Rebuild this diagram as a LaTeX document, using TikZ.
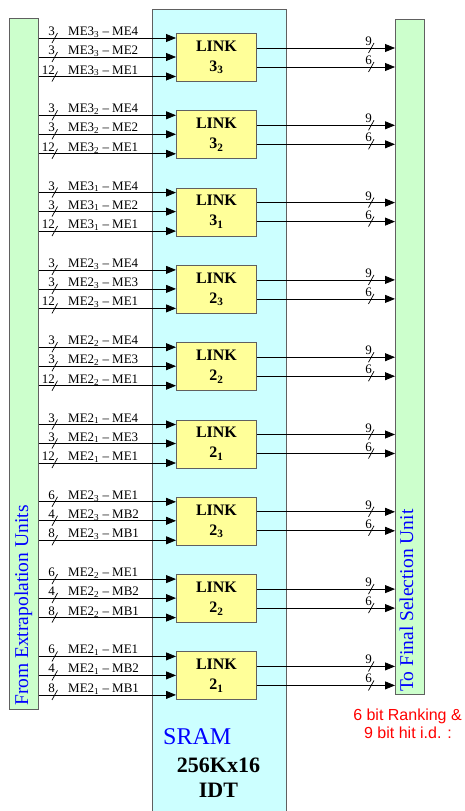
\documentclass[tikz,border=0pt]{standalone}
\usepackage{fontspec}
\setmainfont{Liberation Serif}
\newfontfamily\redsans{Liberation Sans}
\usetikzlibrary{arrows.meta}
\definecolor{barg}{HTML}{CCFFCC}
\definecolor{sramc}{HTML}{CCFFFF}
\definecolor{linky}{HTML}{FFFF99}
\definecolor{edgec}{HTML}{606060}
\begin{document}
\begin{tikzpicture}[x=1pt,y=-1pt,
  bar/.style={draw=edgec, fill=barg, line width=0.9pt, inner sep=0, anchor=north west},
  linkbox/.style={draw=edgec, fill=linky, line width=0.9pt, minimum width=80pt, minimum height=48pt, inner sep=0, anchor=north west, font=\fontsize{16}{20}\selectfont\bfseries, align=center},
  sig/.style={-{Triangle[length=10pt,width=8pt]}, line width=0.8pt},
  tick/.style={line width=0.7pt},
  lbl/.style={font=\fontsize{13}{15}\selectfont, anchor=base west, inner sep=0},
  num/.style={font=\fontsize{13}{15}\selectfont, anchor=base east, inner sep=0},
  bartext/.style={font=\fontsize{19.5}{22}\selectfont, text=blue, rotate=90, anchor=base west, inner sep=0}
]
\useasboundingbox (0,0) rectangle (465,811);
% SRAM box (open at bottom)
\fill[sramc] (152,9) rectangle (286,811);
\draw[edgec, line width=0.9pt] (152,811) -- (152,9) -- (286,9) -- (286,811);
\node[bar, minimum width=29pt, minimum height=691pt] (inbar) at (9,18) {};
\node[bar, minimum width=29pt, minimum height=675pt] (outbar) at (395,19) {};
\node[bartext] (intext) at (28,706) {From Extrapolation Units};
\node[bartext] (outtext) at (413,692) {To Final Selection Unit};
\foreach \g/\a/\s/\la/\lb/\lc/\na/\nb/\nc in {
  0/3/3/ME4/ME2/ME1/3/3/12, 1/3/2/ME4/ME2/ME1/3/3/12, 2/3/1/ME4/ME2/ME1/3/3/12,
  3/2/3/ME4/ME3/ME1/3/3/12, 4/2/2/ME4/ME3/ME1/3/3/12, 5/2/1/ME4/ME3/ME1/3/3/12,
  6/2/3/ME1/MB2/MB1/6/4/8, 7/2/2/ME1/MB2/MB1/6/4/8, 8/2/1/ME1/MB2/MB1/6/4/8}{
  \pgfmathsetmacro{\T}{33+77.3*\g}
  \node[linkbox] (link\g) at (176,\T) {LINK\\\a\textsubscript{\s}};
  \foreach \k/\dy/\lab/\n in {a/5/\la/\na, b/24/\lb/\nb, c/43.5/\lc/\nc}{
    \pgfmathsetmacro{\Y}{\T+\dy}
    \coordinate (src\g\k) at (inbar.east |- 0,\Y);
    \draw[sig] (src\g\k) -- (link\g.west |- src\g\k);
    \draw[tick] (52,\Y+5) -- (57.5,\Y-5);
    \node[num] (n\g\k) at (55,\Y-2.5) {\n};
    \node[lbl] (l\g\k) at (68,\Y-2.5) {ME\a\textsubscript{\s} – \lab};
  }
  \foreach \k/\dy/\n in {a/15/9, b/34/6}{
    \pgfmathsetmacro{\Y}{\T+\dy}
    \coordinate (dst\g\k) at (link\g.east |- 0,\Y);
    \draw[sig] (dst\g\k) -- (outbar.west |- dst\g\k);
    \draw[tick] (368.5,\Y+5) -- (374,\Y-5);
    \node[num] (m\g\k) at (372,\Y-2.5) {\n};
  }
}
\node[font=\fontsize{24}{28}\selectfont, text=blue, anchor=base west, inner sep=0] (sram) at (163,744) {SRAM};
\node[font=\fontsize{22}{26}\selectfont\bfseries, anchor=base, inner sep=0] (size) at (218.5,772) {256Kx16};
\node[font=\fontsize{22}{26}\selectfont\bfseries, anchor=base, inner sep=0] (idt) at (218.5,797) {IDT};
\node[font=\redsans\fontsize{16}{18}\selectfont, text=red, anchor=base, inner sep=0] (r1) at (407.5,720) {6 bit Ranking \&};
\node[font=\redsans\fontsize{16}{18}\selectfont, text=red, anchor=base, inner sep=0] (r2) at (408,738) {9 bit hit i.d. :};
\end{tikzpicture}
\end{document}
